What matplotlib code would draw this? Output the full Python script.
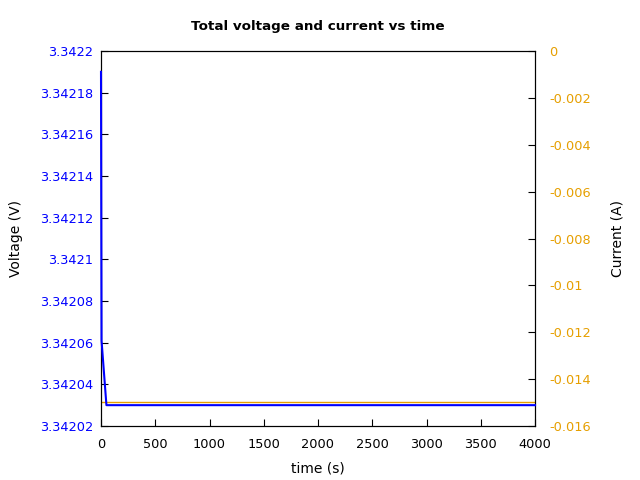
import matplotlib
matplotlib.use("Agg")
import matplotlib.pyplot as plt
from matplotlib.ticker import FuncFormatter

# data
time_v = [0, 5, 50, 4000]
voltage = [3.34219, 3.342061, 3.34203, 3.34203]
time_i = [0, 4000]
current = [-0.01498, -0.01498]

blue = "#0000ff"
orange = "#e69f00"

fig = plt.figure(figsize=(6.4, 4.8), dpi=100)
ax = fig.add_axes([101 / 640, 1 - 426 / 480, 434 / 640, 375 / 480])
ax2 = ax.twinx()

ax2.plot(time_i, current, color=orange, lw=1)
ax.plot(time_v, voltage, color=blue, lw=1.5, zorder=3, clip_on=False)
ax.set_zorder(ax2.get_zorder() + 1)
ax.patch.set_visible(False)

ax.set_xlim(0, 4000)
ax.set_ylim(3.34202, 3.3422)
ax2.set_ylim(-0.016, 0)
ax.set_xticks(range(0, 4001, 500))
ax.set_yticks([3.34202 + 0.00002 * k for k in range(10)])
ax2.set_yticks([-0.016 + 0.002 * k for k in range(9)])

fmt = FuncFormatter(lambda v, p: "{:.6g}".format(round(v, 6)))
ax.yaxis.set_major_formatter(fmt)
ax2.yaxis.set_major_formatter(FuncFormatter(lambda v, p: "{:g}".format(round(v, 4))))

ax.tick_params(axis="both", direction="in", length=5, labelsize=9.3)
ax.tick_params(axis="y", colors=blue, pad=5.8)
ax.tick_params(axis="y", color="black")
ax.tick_params(axis="x", pad=8.5)
ax2.tick_params(axis="y", direction="in", length=5, labelsize=9.3, labelcolor=orange, color="black", pad=10)

ax.set_xlabel("time (s)", labelpad=8)
ax.set_ylabel("Voltage (V)", labelpad=12)
ax2.set_ylabel("Current (A)", labelpad=14)
ax.set_title("Total voltage and current vs time", fontweight="bold", fontsize=9.7, pad=15)

fig.savefig("out.png", dpi=100)
